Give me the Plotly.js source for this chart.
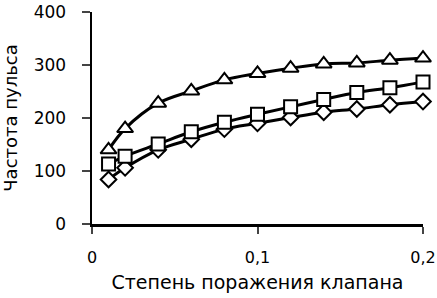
<!DOCTYPE html>
<html>
<head>
<meta charset="utf-8">
<script src="https://cdn.plot.ly/plotly-3.0.1.min.js"></script>
<style>html,body{margin:0;padding:0;background:#fff;}#chart{width:437px;height:298px;}</style>
</head>
<body>
<div id="chart"></div>
<script>
const xValues = [0.01, 0.02, 0.04, 0.06, 0.08, 0.10, 0.12, 0.14, 0.16, 0.18, 0.20];
const seriesTriangle = [140, 180, 228, 251, 272, 284, 294, 302, 304, 309, 313];
const seriesSquare   = [113, 128, 151, 174, 192, 207, 221, 235, 248, 257, 268];
const seriesDiamond  = [84, 106, 140, 160, 179, 190, 201, 211, 217, 225, 231];
const xTickVals = [0, 0.1, 0.2];
const yTickVals = [0, 100, 200, 300, 400];
const xTitle = "Степень поражения клапана";
const yTitle = "Частота пульса";

const font = "DejaVu Sans, Arial, sans-serif";
function trace(y, symbol, size) {
  return {
    x: xValues, y: y, type: "scatter", mode: "lines+markers",
    line: {color: "#000", width: 3, shape: "spline", smoothing: 1},
    marker: {symbol: symbol, size: size, color: "#fff", line: {color: "#000", width: 2}},
    cliponaxis: false, showlegend: false
  };
}
const data = [
  trace(seriesDiamond, "diamond", 12),
  trace(seriesSquare, "square", 13),
  trace(seriesTriangle, "triangle-up", 14)
];
const layout = {
  width: 437, height: 298,
  margin: {l: 92, r: 14, t: 12, b: 74},
  paper_bgcolor: "#fff", plot_bgcolor: "#fff",
  separators: ", ",
  font: {family: font, color: "#000", size: 17},
  xaxis: {
    range: [0, 0.2], tickvals: xTickVals, ticks: "outside", ticklen: 7, tickwidth: 2,
    showline: true, linecolor: "#000", linewidth: 2.5, showgrid: false, zeroline: false,
    tickfont: {size: 16}, ticklabelstandoff: 10, ticklabeloverflow: "allow",
    title: {text: xTitle, font: {size: 19}, standoff: 10}
  },
  yaxis: {
    range: [0, 400], tickvals: yTickVals, ticks: "outside", ticklen: 8, tickwidth: 2,
    showline: true, linecolor: "#000", linewidth: 2.5, showgrid: false, zeroline: false,
    tickfont: {size: 17}, ticklabelstandoff: 12, ticklabeloverflow: "allow",
    title: {text: yTitle, font: {size: 18}, standoff: 14}
  }
};
Plotly.newPlot("chart", data, layout, {displayModeBar: false, staticPlot: true});
</script>
</body>
</html>
